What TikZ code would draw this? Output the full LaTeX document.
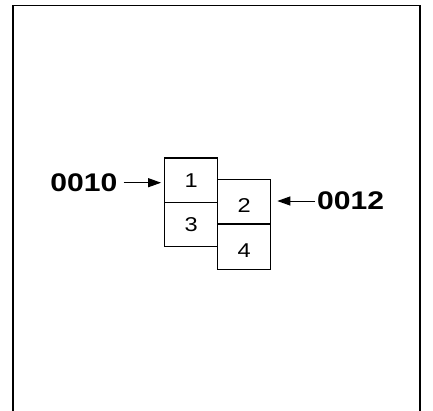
\documentclass[tikz,border=0pt]{standalone}
\usepackage{graphicx}
\usepackage{fontspec}
\setmainfont{Liberation Sans}
\usetikzlibrary{arrows.meta}
\newcommand{\sx}[1]{\scalebox{1.18}[1]{#1}}
\begin{document}
\begin{tikzpicture}[x=1pt,y=-1pt,
  cell/.style={draw, line width=1.2pt, minimum width=53pt, minimum height=44.5pt, inner sep=0pt, font=\fontsize{20}{20}\selectfont},
  lbl/.style={inner sep=0pt, font=\bfseries\fontsize{25.5}{26}\selectfont},
  arr/.style={line width=1pt, -{Triangle[length=13pt,width=9pt]}}]
\useasboundingbox (0,0) rectangle (433,410);
\draw[line width=1.6pt] (12.7,412) -- (12.7,5.3) -- (419.7,5.3) -- (419.7,412);
\node[cell] (b1) at (191.2,180.3) {\sx{1}};
\node[cell] (b3) at (191.2,224.5) {\sx{3}};
\node[cell] (b2) at (244.2,201.8) {\raisebox{-4pt}[\height][\depth]{\sx{2}}};
\node[cell] (b4) at (244.2,247.1) {\raisebox{-3.7pt}[\height][\depth]{\sx{4}}};
\node[lbl, anchor=east] (l10) at (117.5,182.7) {\sx{0010}};
\node[lbl, anchor=west] (l12) at (317,201) {\sx{0012}};
\draw[arr, shorten <=6pt, shorten >=3pt] (l10.east) -- (l10.east -| b1.west);
\draw[arr, shorten <=2pt, shorten >=6pt] (l12.west) -- (l12.west -| b2.east);
\end{tikzpicture}
\end{document}
